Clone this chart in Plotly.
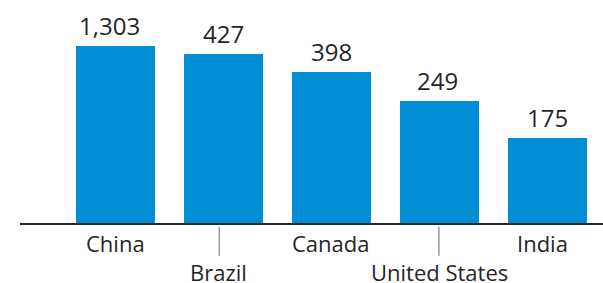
import plotly.graph_objects as go

countries = ["China", "Brazil", "Canada", "United States", "India"]
values = [1303, 427, 398, 249, 175]
value_labels = ["1,303", "427", "398", "249", "175"]
# bar heights as drawn in the reference (not proportional to values)
display_heights = [177, 169, 151, 122, 85]
label_row = [0, 1, 0, 1, 0]

BLUE = "#008FD5"
TEXT = "#262626"
FONT = "Open Sans"

value_dx = [-0.055, 0, 0, -0.015, 0]
name_dx = [0, -0.05, -0.01, 0, -0.045]
tick_dx = [0, -0.04, 0, -0.005, 0]

x = list(range(len(countries)))
fig = go.Figure()
fig.add_trace(go.Bar(x=x, y=display_heights, width=0.731, marker_color=BLUE,
                     marker_line_width=0, hoverinfo="skip"))

annotations = []
shapes = []
for i, (lab, h, row, name) in enumerate(zip(value_labels, display_heights, label_row, countries)):
    annotations.append(dict(x=i + value_dx[i], y=h, xref="x", yref="y", text=lab, showarrow=False,
                            yanchor="bottom", yshift=2,
                            font=dict(family=FONT, size=24, color=TEXT)))
    annotations.append(dict(x=i + name_dx[i], y=0, xref="x", yref="paper", text=name,
                            showarrow=False, yanchor="middle", yshift=-20 - 29 * row,
                            font=dict(family=FONT, size=22, color=TEXT)))
    if row == 1:
        shapes.append(dict(type="line", xref="x", yref="paper", x0=i + tick_dx[i], x1=i + tick_dx[i],
                           y0=-0.017, y1=-0.147, line=dict(color="#666666", width=1)))

fig.update_layout(
    width=603, height=283,
    margin=dict(l=20, r=0, t=0, b=60),
    plot_bgcolor="white", paper_bgcolor="white",
    showlegend=False,
    bargap=0,
    annotations=annotations,
    shapes=shapes,
    xaxis=dict(range=[-0.884, 4.514], showticklabels=False, showgrid=False, zeroline=False,
               showline=True, linecolor="#262626", linewidth=1.5, ticks=""),
    yaxis=dict(range=[0, 223], visible=False, showgrid=False, zeroline=False),
)

fig.write_html("out.html", config={"displayModeBar": False},
               post_script="document.body.style.margin='0';document.body.style.overflow='hidden';")
